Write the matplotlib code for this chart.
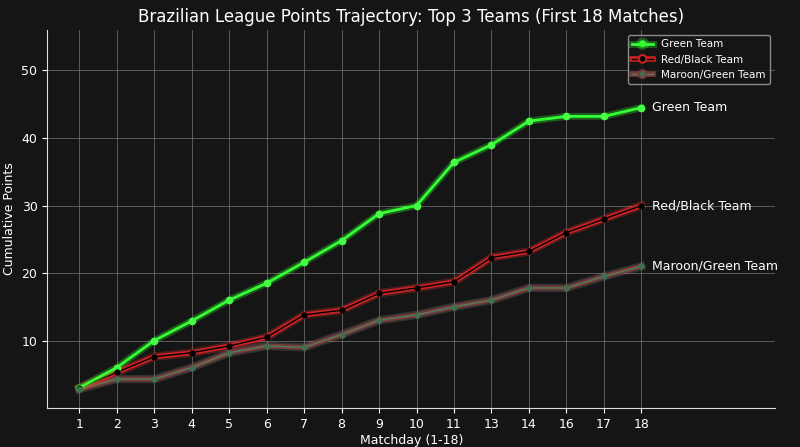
import matplotlib
matplotlib.use("Agg")
import matplotlib.pyplot as plt
import matplotlib.patheffects as pe

matchdays = ["1","2","3","4","5","6","7","8","9","10","11","13","14","16","17","18"]
green = [3, 6, 10, 12.9, 16, 18.5, 21.6, 24.8, 28.8, 30, 36.4, 39, 42.5, 43.2, 43.2, 44.5]
redblack = [3, 5.3, 7.6, 8.2, 9.2, 10.5, 13.8, 14.5, 17, 17.8, 18.7, 22.3, 23.2, 26, 28, 30]
maroon = [2.8, 4.3, 4.3, 6, 8.2, 9.2, 9, 10.9, 13, 13.8, 15, 16, 17.8, 17.8, 19.5, 21]

bg = "#151515"
fig, ax = plt.subplots(figsize=(8, 4.47), dpi=100)
fig.patch.set_facecolor(bg)
ax.set_facecolor(bg)
fig.subplots_adjust(left=0.059, right=0.969, top=0.933, bottom=0.087)
x = list(range(len(matchdays)))

# lines with glow
ax.plot(x, green, color="#33ff33", lw=2, zorder=5,
        path_effects=[pe.Stroke(linewidth=5, foreground="#33ff33", alpha=0.3), pe.Normal()])
ax.plot(x, redblack, color="black", lw=1.0, zorder=4,
        path_effects=[pe.Stroke(linewidth=6, foreground="#ff3333", alpha=0.25),
                      pe.Stroke(linewidth=3.5, foreground="#cc2222"), pe.Normal()])
ax.plot(x, maroon, color="#4f7f5f", lw=1.0, zorder=3,
        path_effects=[pe.Stroke(linewidth=6, foreground="#aaaaaa", alpha=0.2),
                      pe.Stroke(linewidth=3.5, foreground="#7a3a3a"), pe.Normal()])
# markers
ax.plot(x, green, ls="none", marker="o", ms=4.5, color="#44ff44", zorder=6)
ax.plot(x, redblack, ls="none", marker="o", ms=3.5, color="black", zorder=6)
ax.plot(x, maroon, ls="none", marker="o", ms=3.5, color="#3f6f4f", zorder=6)

# legend proxies
h1, = ax.plot([], [], color="#33ff33", lw=2, marker="o", ms=4,
              path_effects=[pe.Stroke(linewidth=5, foreground="#33ff33", alpha=0.3), pe.Normal()])
h2, = ax.plot([], [], color="black", lw=1, marker="o", ms=3, mfc="black", mec="black",
              path_effects=[pe.Stroke(linewidth=4, foreground="#cc2222"), pe.Normal()])
h3, = ax.plot([], [], color="#4f7f5f", lw=1, marker="o", ms=3, mfc="#3f6f4f", mec="#3f6f4f",
              path_effects=[pe.Stroke(linewidth=4, foreground="#7a3a3a"), pe.Normal()])

for vals, name in [(green, "Green Team"), (redblack, "Red/Black Team"), (maroon, "Maroon/Green Team")]:
    ax.text(x[-1] + 0.28, vals[-1], name, color="white", fontsize=9, va="center")

ax.set_xticks(x)
ax.set_xticklabels(matchdays)
ax.set_xlim(-0.854, 18.57)
ax.set_ylim(0, 56)
ax.set_yticks([10, 20, 30, 40, 50])
ax.grid(True, color="#888888", lw=0.6, alpha=0.7)
for s in ["top", "right"]:
    ax.spines[s].set_visible(False)
for s in ["left", "bottom"]:
    ax.spines[s].set_color("#dddddd")
ax.tick_params(colors="white", labelsize=9)
ax.set_xlabel("Matchday (1-18)", color="white", fontsize=9, labelpad=2)
ax.set_ylabel("Cumulative Points", color="white", fontsize=9)
ax.set_title("Brazilian League Points Trajectory: Top 3 Teams (First 18 Matches)", color="white", fontsize=12)
ax.legend([h1, h2, h3], ["Green Team", "Red/Black Team", "Maroon/Green Team"],
          loc="upper right", fontsize=7.5, facecolor=bg, edgecolor="#aaaaaa", labelcolor="white")
fig.savefig("out.png", facecolor=bg)
